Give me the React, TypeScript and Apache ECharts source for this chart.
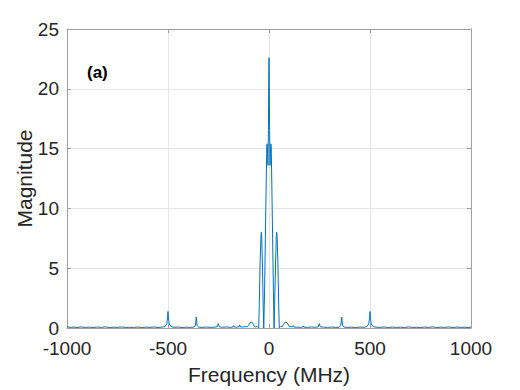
import React, { useEffect, useRef } from "react";
import * as echarts from "echarts";

const xTicks = [-1000, -500, 0, 500, 1000];
const yTicks = [0, 5, 10, 15, 20, 25];

const freqs: number[] = [
  -1000, -985, -970, -950, -930, -910, -890, -870, -850, -830, -810, -790, -770, -750, -730, -710,
  -690, -670, -650, -630, -610, -590, -570, -550, -530, -515, -506, -502, -500, -498, -494, -485,
  -470, -450, -430, -410, -390, -372, -364, -360, -356, -348, -330, -310, -290, -270, -256, -251,
  -246, -230, -210, -190, -178, -175, -172, -160, -148, -145, -142, -130, -118, -108, -100, -94,
  -88, -82, -77, -72, -66, -60, -55, -51, -48, -44, -40, -38, -36, -32, -29, -26,
  -22, -18, -14, -11, -9, -7, -5, -3, -1, 0, 1, 3, 5, 7, 9, 11,
  14, 18, 22, 25, 28, 32, 36, 38, 40, 44, 48, 51, 55, 60, 66, 72,
  78, 84, 90, 96, 102, 110, 116, 120, 124, 140, 155, 166, 169, 172, 190, 210,
  230, 244, 249, 254, 270, 290, 310, 330, 348, 355, 360, 364, 372, 390, 410, 430,
  450, 470, 485, 494, 498, 500, 502, 506, 515, 530, 550, 570, 590, 610, 630, 650,
  670, 690, 710, 730, 750, 770, 790, 810, 830, 850, 870, 890, 910, 930, 950, 970,
  985, 1000,
];

const mags: number[] = [
  0.10, 0.05, 0.08, 0.04, 0.09, 0.05, 0.07, 0.04, 0.08, 0.05, 0.10, 0.04, 0.07, 0.05, 0.09, 0.04,
  0.06, 0.05, 0.08, 0.04, 0.07, 0.05, 0.09, 0.04, 0.08, 0.12, 0.35, 0.9, 1.38, 0.9, 0.35, 0.12,
  0.06, 0.08, 0.04, 0.07, 0.05, 0.08, 0.2, 0.92, 0.2, 0.07, 0.05, 0.08, 0.05, 0.07, 0.1, 0.36,
  0.1, 0.06, 0.09, 0.05, 0.09, 0.2, 0.08, 0.07, 0.1, 0.25, 0.1, 0.08, 0.12, 0.1, 0.25, 0.42,
  0.5, 0.45, 0.3, 0.12, 0.08, 0.15, 0.05, 0, 2, 5.5, 7.6, 8.0, 7.6, 5, 2, 0,
  3, 7.5, 12, 15.2, 15.4, 14.6, 13.6, 16.5, 21.5, 22.6, 21.5, 16.5, 13.6, 14.6, 15.4, 15.2,
  12, 7.5, 3, 0, 2, 5, 7.6, 8.0, 7.6, 5.5, 2, 0, 0.06, 0.15, 0.1, 0.3,
  0.45, 0.5, 0.42, 0.25, 0.1, 0.12, 0.08, 0.2, 0.08, 0.07, 0.05, 0.08, 0.18, 0.08, 0.05, 0.09,
  0.06, 0.1, 0.36, 0.1, 0.07, 0.05, 0.08, 0.05, 0.07, 0.2, 0.92, 0.2, 0.08, 0.05, 0.07, 0.04,
  0.08, 0.06, 0.12, 0.35, 0.9, 1.38, 0.9, 0.35, 0.12, 0.07, 0.05, 0.09, 0.04, 0.08, 0.05, 0.07,
  0.04, 0.09, 0.05, 0.06, 0.04, 0.08, 0.05, 0.10, 0.04, 0.07, 0.05, 0.09, 0.04, 0.08, 0.05, 0.07,
  0.04, 0.08,
];

const FONT = "'Liberation Sans', Arial, sans-serif";
const TEXT = "#262626";
const AXIS = "#a0a0a0";

export default function App() {
  const ref = useRef<HTMLDivElement>(null);
  useEffect(() => {
    if (!ref.current) return;
    const chart = echarts.init(ref.current, undefined, { renderer: "svg" });
    const data = freqs.map((f, i) => [f, mags[i]]);
    const plain = (v: number) => String(v);
    chart.setOption({
      animation: false,
      backgroundColor: "#ffffff",
      grid: { left: 67, right: 49, top: 29, bottom: 60, containLabel: false },
      xAxis: [
        {
          type: "value",
          min: xTicks[0],
          max: xTicks[xTicks.length - 1],
          interval: 500,
          name: "Frequency (MHz)",
          nameLocation: "middle",
          nameGap: 36,
          nameMoveOverlap: false,
          nameTextStyle: { fontFamily: FONT, fontSize: 21, color: TEXT },
          axisLine: { show: true, onZero: false, lineStyle: { color: AXIS, width: 1 } },
          axisTick: { show: true, inside: true, length: 4, lineStyle: { color: AXIS } },
          axisLabel: { fontFamily: FONT, fontSize: 19, color: TEXT, margin: 11, formatter: plain },
          splitLine: { show: true, lineStyle: { color: "#e6e6e6", width: 1 } },
        },
        {
          type: "value",
          position: "top",
          min: xTicks[0],
          max: xTicks[xTicks.length - 1],
          interval: 500,
          axisLine: { show: true, onZero: false, lineStyle: { color: AXIS, width: 1 } },
          axisTick: { show: true, inside: true, length: 4, lineStyle: { color: AXIS } },
          axisLabel: { show: false },
          splitLine: { show: false },
        },
      ],
      yAxis: [
        {
          type: "value",
          min: yTicks[0],
          max: yTicks[yTicks.length - 1],
          interval: 5,
          name: "Magnitude",
          nameLocation: "middle",
          nameGap: 32,
          nameMoveOverlap: false,
          nameTextStyle: { fontFamily: FONT, fontSize: 21, color: TEXT },
          axisLine: { show: true, onZero: false, lineStyle: { color: AXIS, width: 1 } },
          axisTick: { show: true, inside: true, length: 4, lineStyle: { color: AXIS } },
          axisLabel: { fontFamily: FONT, fontSize: 19, color: TEXT, margin: 8, formatter: plain },
          splitLine: { show: true, lineStyle: { color: "#e6e6e6", width: 1 } },
        },
        {
          type: "value",
          position: "right",
          min: yTicks[0],
          max: yTicks[yTicks.length - 1],
          interval: 5,
          axisLine: { show: true, onZero: false, lineStyle: { color: AXIS, width: 1 } },
          axisTick: { show: true, inside: true, length: 4, lineStyle: { color: AXIS } },
          axisLabel: { show: false },
          splitLine: { show: false },
        },
      ],
      graphic: [
        {
          type: "text",
          left: 87,
          top: 64,
          style: {
            text: "(a)",
            fontFamily: FONT,
            fontSize: 17,
            fontWeight: "bold",
            fill: "#000000",
          },
        },
      ],
      series: [
        {
          type: "line",
          xAxisIndex: 0,
          yAxisIndex: 0,
          data,
          showSymbol: false,
          symbol: "none",
          lineStyle: { color: "#0072BD", width: 1 },
          z: 3,
        },
      ],
    });
    return () => chart.dispose();
  }, []);
  return (
    <div
      ref={ref}
      style={{ position: "fixed", left: 0, top: 0, width: 520, height: 390 }}
    />
  );
}
